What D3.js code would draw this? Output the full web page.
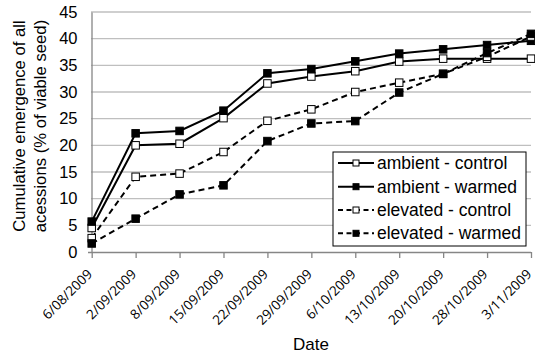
<!DOCTYPE html>
<html><head><meta charset="utf-8">
<script src="https://cdn.jsdelivr.net/npm/d3@7"></script>
<style>body{margin:0;background:#fff}svg{display:block}</style>
</head><body>
<svg id="c" width="535" height="355"></svg>
<script>
const dates = ["6/08/2009","2/09/2009","8/09/2009","15/09/2009","22/09/2009","29/09/2009","6/10/2009","13/10/2009","20/10/2009","28/10/2009","3/11/2009"];
const ambientControl  = [4.5, 20.0, 20.3, 25.1, 31.6, 32.9, 33.9, 35.7, 36.25, 36.25, 36.25];
const ambientWarmed   = [5.7, 22.25, 22.7, 26.5, 33.5, 34.3, 35.75, 37.2, 38.0, 38.8, 39.6];
const elevatedControl = [2.6, 14.1, 14.7, 18.75, 24.6, 26.75, 30.0, 31.75, 33.4, 36.6, 40.4];
const elevatedWarmed  = [1.6, 6.25, 10.8, 12.5, 20.8, 24.1, 24.55, 29.9, 33.4, 37.3, 40.9];
const yTicks = [0,5,10,15,20,25,30,35,40,45];
const seriesNames = ["ambient - control","ambient - warmed","elevated - control","elevated - warmed"];

const series = [
  {name: seriesNames[0], values: ambientControl, dash: null, filled: false},
  {name: seriesNames[1], values: ambientWarmed, dash: null, filled: true},
  {name: seriesNames[2], values: elevatedControl, dash: "6,4", filled: false},
  {name: seriesNames[3], values: elevatedWarmed, dash: "6,4", filled: true}
];

const svg = d3.select("#c");
const x = d3.scalePoint().domain(dates).range([91.7, 531]).padding(0);
const y = d3.scaleLinear().domain([0,45]).range([252,12]);

// gridlines
svg.append("g").selectAll("line").data(yTicks.filter(d=>d>0)).join("line")
  .attr("x1",91).attr("x2",531).attr("y1",d=>y(d)).attr("y2",d=>y(d))
  .attr("stroke","#bfbfbf").attr("stroke-width",1.3);

// y axis
const yAxis = svg.append("g").attr("transform","translate(91.5,0)")
  .call(d3.axisLeft(y).tickValues(yTicks).tickSize(0).tickPadding(14));
yAxis.select(".domain").attr("stroke","#868686").attr("stroke-width",1.3);
yAxis.selectAll("text").attr("font-family","Liberation Sans, Arial, sans-serif").attr("font-size","16.5px").attr("fill","#000");

// x axis
const xAxis = svg.append("g").attr("transform","translate(0,252)")
  .call(d3.axisBottom(x).tickSize(6).tickSizeOuter(0));
xAxis.select(".domain").attr("stroke","#868686").attr("stroke-width",1.3).attr("d","M88,0.5H531");
xAxis.selectAll(".tick line").attr("stroke","#868686").attr("stroke-width",1.3);
xAxis.selectAll("text")
  .attr("font-family","Open Sans, sans-serif").attr("font-size","13.5px").attr("fill","#000")
  .attr("text-anchor","end").attr("dy",null).attr("y",0)
  .attr("transform","translate(1,23) rotate(-45)");

// lines
const line = d3.line().x((d,i)=>x(dates[i])).y(d=>y(d));
const ms = 7.5;
series.forEach(s=>{
  const g = svg.append("g");
  g.append("path").attr("d", line(s.values)).attr("fill","none")
    .attr("stroke","#000").attr("stroke-width",2)
    .attr("stroke-dasharray", s.dash);
  g.selectAll("rect").data(s.values).join("rect")
    .attr("x",(d,i)=>x(dates[i])-ms/2).attr("y",d=>y(d)-ms/2)
    .attr("width",ms).attr("height",ms)
    .attr("fill", s.filled ? "#000" : "#fff").attr("stroke","#000").attr("stroke-width",1);
});

// legend
const lg = svg.append("g");
lg.append("rect").attr("x",333).attr("y",152).attr("width",193).attr("height",94)
  .attr("fill","#fff").attr("stroke","#000").attr("stroke-width",1);
const ly = [163, 186.7, 210, 233.3];
series.forEach((s,i)=>{
  lg.append("line").attr("x1",338).attr("x2",374).attr("y1",ly[i]).attr("y2",ly[i])
    .attr("stroke","#000").attr("stroke-width",2).attr("stroke-dasharray", s.dash ? "5,3.5" : null);
  lg.append("rect").attr("x",356-3).attr("y",ly[i]-3).attr("width",6).attr("height",6)
    .attr("fill", s.filled ? "#000" : "#fff").attr("stroke","#000").attr("stroke-width",1);
  lg.append("text").attr("x",377).attr("y",ly[i]).attr("dy","0.35em")
    .attr("font-family","Liberation Sans, Arial, sans-serif").attr("font-size","17.5px")
    .text(s.name);
});

// axis titles
const yt = svg.append("text").attr("transform","translate(25,126) rotate(-90)")
  .attr("text-anchor","middle").attr("font-family","Liberation Sans, Arial, sans-serif").attr("font-size","16.7px");
yt.append("tspan").attr("x",0).attr("y",0).text("Cumulative emergence of all");
yt.append("tspan").attr("x",0).attr("y",21).text("acessions (% of viable seed)");

svg.append("text").attr("x",311).attr("y",350).attr("text-anchor","middle")
  .attr("font-family","Liberation Sans, Arial, sans-serif").attr("font-size","17px").text("Date");
</script>
</body></html>
